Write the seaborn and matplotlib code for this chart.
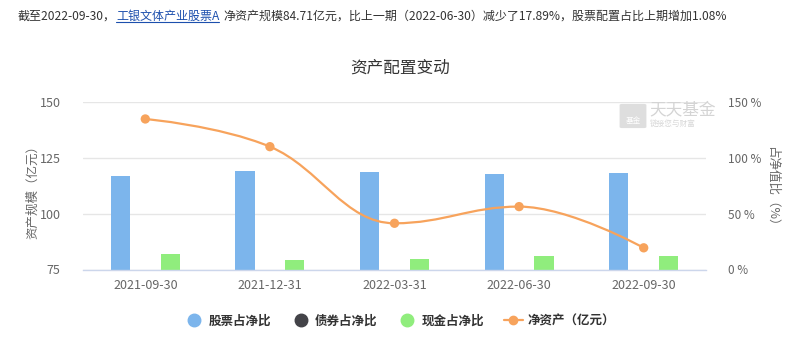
import numpy as np
import pandas as pd
import seaborn as sns
import matplotlib.pyplot as plt
from matplotlib.path import Path
from matplotlib.patches import PathPatch, FancyBboxPatch
from matplotlib.lines import Line2D

# data
dates = ['2021-09-30', '2021-12-31', '2022-03-31', '2022-06-30', '2022-09-30']
stock_pct = [83.7, 88.2, 87.3, 85.3, 86.38]
bond_pct = [0, 0, 0, 0, 0]
cash_pct = [13.9, 8.5, 9.4, 11.8, 11.8]
net_assets = [142.4, 130.0, 95.7, 103.16, 84.71]

series_names = ['股票占净比', '债券占净比', '现金占净比']
line_name = '净资产（亿元）'
colors = ['#7cb5ec', '#434348', '#90ed7d']
line_color = '#f7a35c'

sns.set_theme(style='white')
plt.rcParams['font.family'] = ['Noto Sans CJK SC', 'DejaVu Sans']

df = pd.DataFrame({
    'date': dates * 3,
    'pct': stock_pct + bond_pct + cash_pct,
    'kind': sum([[n] * len(dates) for n in series_names], []),
})

fig = plt.figure(figsize=(8, 3.61), dpi=100)
ax = fig.add_axes([83 / 800, 1 - 269.5 / 361, 623 / 800, 167.5 / 361])
ax2 = ax.twinx()

# bars on the percent axis, kept behind the line
ax2.set_axisbelow(True)
ax2.grid(axis='y', color='#e6e6e6', lw=1)
sns.barplot(data=df, x='date', y='pct', hue='kind', hue_order=series_names,
            palette=colors, width=0.6, gap=0.235, ax=ax2, legend=False,
            linewidth=0, saturation=1)
ax2.set_ylim(0, 150)
ax2.set_yticks([0, 50, 100, 150])
ax2.set_yticklabels(['0 %', '50 %', '100 %', '150 %'])
ax2.set_ylabel('占净值比（%）', rotation=-90, color='#666666', fontsize=9, va='center')
ax2.yaxis.set_label_coords(1 + 66 / 623, 0.48)
ax2.tick_params(axis='y', length=0, pad=16, labelsize=8.5, labelcolor='#666666')
ax2.set_xlabel('')

ax.set_zorder(ax2.get_zorder() + 1)
ax.patch.set_visible(False)

# smooth line (highcharts-like spline) through the net asset points
xs = np.arange(len(dates), dtype=float)
ys = np.array(net_assets, dtype=float)
sm = 1.5
den = sm + 1
left_c, right_c = [], []
for i in range(len(xs)):
    if i == 0 or i == len(xs) - 1:
        left_c.append((xs[i], ys[i]))
        right_c.append((xs[i], ys[i]))
        continue
    px, py = xs[i], ys[i]
    lx, ly = xs[i - 1], ys[i - 1]
    nx, ny = xs[i + 1], ys[i + 1]
    lcx, lcy = (sm * px + lx) / den, (sm * py + ly) / den
    rcx, rcy = (sm * px + nx) / den, (sm * py + ny) / den
    corr = (rcy - lcy) * (rcx - px) / (rcx - lcx) + py - rcy
    lcy += corr
    rcy += corr
    if lcy > ly and lcy > py:
        lcy = max(ly, py); rcy = 2 * py - lcy
    elif lcy < ly and lcy < py:
        lcy = min(ly, py); rcy = 2 * py - lcy
    if rcy > ny and rcy > py:
        rcy = max(ny, py); lcy = 2 * py - rcy
    elif rcy < ny and rcy < py:
        rcy = min(ny, py); lcy = 2 * py - rcy
    left_c.append((lcx, lcy))
    right_c.append((rcx, rcy))

verts = [(xs[0], ys[0])]
codes = [Path.MOVETO]
for i in range(1, len(xs)):
    verts += [right_c[i - 1], left_c[i], (xs[i], ys[i])]
    codes += [Path.CURVE4] * 3
ax.add_patch(PathPatch(Path(verts, codes), facecolor='none', edgecolor=line_color,
                       lw=1.6, zorder=3))
sns.scatterplot(x=xs, y=ys, ax=ax, color=line_color, s=45, edgecolor='none', zorder=4)

ax.set_xlim(-0.5, len(dates) - 0.5)
ax.set_ylim(75, 150)
ax.set_yticks([75, 100, 125, 150])
ax.set_xticks(xs)
ax.set_xticklabels(dates)
ax.set_xticks(np.arange(-0.5, len(dates)), minor=True)
ax.tick_params(axis='x', which='major', length=0, pad=7, labelsize=9, labelcolor='#666666')
ax.tick_params(axis='x', which='minor', length=10, width=1, color='#ccd6eb', direction='out')
ax.tick_params(axis='y', length=0, pad=16, labelsize=9, labelcolor='#666666')
ax.set_ylabel('资产规模（亿元）', color='#666666', fontsize=9, va='center')
ax.yaxis.set_label_coords(-50 / 623, 0.48)
ax.grid(False)
for a in (ax, ax2):
    for s in ['top', 'left', 'right', 'bottom']:
        a.spines[s].set_visible(False)
ax.spines['bottom'].set_visible(True)
ax.spines['bottom'].set_color('#ccd6eb')
ax.spines['bottom'].set_linewidth(1)
ax2.tick_params(axis='x', length=0, labelbottom=False)

# watermark
fig.patches.append(FancyBboxPatch((622 / 800, 1 - 127 / 361), 22 / 800, 22 / 361,
                                  boxstyle='round,pad=0.003', transform=fig.transFigure,
                                  fc='#dedede', ec='none', zorder=0))
fig.text(633 / 800, 1 - 121 / 361, '基金', color='white', fontsize=5.5, ha='center', va='center')
fig.text(649 / 800, 1 - 110 / 361, '天天基金', color='#d4d4d4', fontsize=12, va='center')
fig.text(650 / 800, 1 - 124 / 361, '链接您与财富', color='#d8d8d8', fontsize=5.5, va='center')

# title
fig.text(0.5, 1 - 68 / 361, '资产配置变动', ha='center', va='center', fontsize=12, color='#333333')

# header sentence with linked fund name
fig.canvas.draw()
r = fig.canvas.get_renderer()
y_head = 1 - 16 / 361
fs_head = 8.65
t1 = fig.text(18 / 800, y_head, '截至2022-09-30，', fontsize=fs_head, color='#333333', va='center')
x = t1.get_window_extent(r).x1
t2 = fig.text(x / 800, y_head, '工银文体产业股票A', fontsize=fs_head, color='#1c4fad', va='center')
bb = t2.get_window_extent(r)
fig.add_artist(Line2D([bb.x0 / 800, bb.x1 / 800], [(bb.y0 + 1) / 361] * 2, color='#1c4fad', lw=0.8))
fig.text((bb.x1 + 4) / 800, y_head,
         '净资产规模84.71亿元，比上一期（2022-06-30）减少了17.89%，股票配置占比上期增加1.08%',
         fontsize=fs_head, color='#333333', va='center')

# legend
handles = [Line2D([], [], marker='o', ls='', color=c, markersize=9) for c in colors]
handles.append(Line2D([], [], marker='o', color=line_color, markersize=6, lw=1.6))
fig.legend(handles, series_names + [line_name], loc='center', ncol=4,
           bbox_to_anchor=(0.5, 1 - 321 / 361), frameon=False,
           prop={'size': 9, 'weight': 'bold'}, labelcolor='#333333',
           handlelength=1.5, handletextpad=0.4, columnspacing=1.6)

fig.savefig('out.png', dpi=100)
